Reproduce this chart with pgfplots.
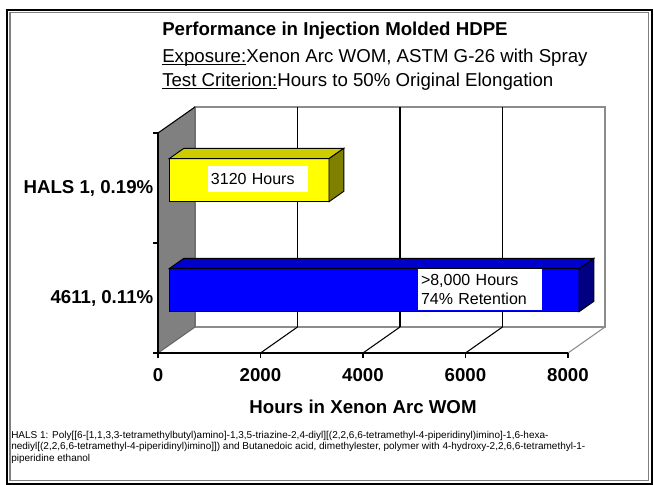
\documentclass[border=0pt]{standalone}
\usepackage{pgfplots}
\pgfplotsset{compat=1.18}
\usepackage{pgfplotstable}
\usepackage{fontspec}
\setmainfont{Liberation Sans}

\definecolor{yfront}{RGB}{255,255,0}
\definecolor{ytop}{RGB}{204,204,0}
\definecolor{yside}{RGB}{128,128,0}
\definecolor{bfront}{RGB}{0,0,255}
\definecolor{btop}{RGB}{0,0,204}
\definecolor{bside}{RGB}{0,0,128}
\definecolor{wallgray}{RGB}{128,128,128}
\definecolor{edgegray}{RGB}{140,140,140}

\newcommand{\ul}[1]{\leavevmode\setbox0\hbox{#1}\rlap{\rule[-1.6pt]{\wd0}{0.75pt}}\box0}

% hours to 50% original elongation
\pgfplotstableread{
pos hours
1.5 3120
}\halsdata
\pgfplotstableread{
pos hours
0.5 8000
}\fsdata

\begin{document}
\begin{tikzpicture}
\pgfplotstablegetelem{0}{hours}\of\halsdata \let\hA\pgfplotsretval
\pgfplotstablegetelem{0}{pos}\of\halsdata \let\pA\pgfplotsretval
\pgfplotstablegetelem{0}{hours}\of\fsdata \let\hB\pgfplotsretval
\pgfplotstablegetelem{0}{pos}\of\fsdata \let\pB\pgfplotsretval
% bar geometry (front offset, depth, half height)
\def\dfx{216.6}\def\dfy{0.0709}\def\ddx{288.8}\def\ddy{0.0945}\def\bh{0.1955}
\pgfmathsetmacro{\Axl}{\dfx}
\pgfmathsetmacro{\Axr}{\dfx+\hA}
\pgfmathsetmacro{\Axrr}{\dfx+\hA+\ddx}
\pgfmathsetmacro{\Axll}{\dfx+\ddx}
\pgfmathsetmacro{\Ayb}{\pA+\dfy-\bh}
\pgfmathsetmacro{\Ayt}{\pA+\dfy+\bh}
\pgfmathsetmacro{\Aybb}{\pA+\dfy-\bh+\ddy}
\pgfmathsetmacro{\Aytt}{\pA+\dfy+\bh+\ddy}
\pgfmathsetmacro{\Bxl}{\dfx}
\pgfmathsetmacro{\Bxr}{\dfx+\hB}
\pgfmathsetmacro{\Bxrr}{\dfx+\hB+\ddx}
\pgfmathsetmacro{\Bxll}{\dfx+\ddx}
\pgfmathsetmacro{\Byb}{\pB+\dfy-\bh}
\pgfmathsetmacro{\Byt}{\pB+\dfy+\bh}
\pgfmathsetmacro{\Bybb}{\pB+\dfy-\bh+\ddy}
\pgfmathsetmacro{\Bytt}{\pB+\dfy+\bh+\ddy}

\begin{scope}[x=0.75pt,y=-0.75pt]
\fill[white] (0,0) rectangle (654,485);
\draw[black, line width=1.5pt] (7,10) rectangle (651.5,483.5);
\draw[gray, line width=0.9pt] (10,12.8) rectangle (648.6,480.6);
\node[anchor=base west, inner sep=0pt, font=\fontsize{14}{16}\selectfont\bfseries] at (162,36) {Performance in Injection Molded HDPE};
\node[anchor=base west, inner sep=0pt, font=\fontsize{14}{16}\selectfont] at (162,63) {\ul{Exposure:}Xenon Arc WOM, ASTM G-26 with Spray};
\node[anchor=base west, inner sep=0pt, font=\fontsize{14}{16}\selectfont] at (162,87) {\ul{Test Criterion:}Hours to 50\% Original Elongation};
\node[anchor=base west, inner sep=0pt, font=\fontsize{7.5}{8.5}\selectfont] at (11,438) {HALS 1: Poly[[6-[1,1,3,3-tetramethylbutyl)amino]-1,3,5-triazine-2,4-diyl][(2,2,6,6-tetramethyl-4-piperidinyl)imino]-1,6-hexa-};
\node[anchor=base west, inner sep=0pt, font=\fontsize{7.5}{8.5}\selectfont] at (11,449.5) {nediyl[(2,2,6,6-tetramethyl-4-piperidinyl)imino]]) and Butanedoic acid, dimethylester, polymer with 4-hydroxy-2,2,6,6-tetramethyl-1-};
\node[anchor=base west, inner sep=0pt, font=\fontsize{7.5}{8.5}\selectfont] at (11,461) {piperidine ethanol};
\end{scope}

\begin{axis}[
  at={(118.5pt,-264.75pt)}, anchor=south west,
  scale only axis, width=307.5pt, height=165pt,
  xmin=0, xmax=8000, ymin=0, ymax=2,
  clip=false, axis on top,
  axis x line*=bottom, axis y line*=left,
  axis line style={black, line width=0.8pt},
  every tick/.style={black, line width=0.8pt},
  tick align=outside,
  major tick length=3.5pt,
  xtick={0,2000,4000,6000,8000},
  scaled x ticks=false,
  /pgf/number format/1000 sep={},
  /pgf/number format/assume math mode=true,
  ytick={0,1,2}, yticklabels={},
  extra y ticks={0.5,1.5},
  extra y tick labels={{4611, 0.11\%},{HALS 1, 0.19\%}},
  extra y tick style={major tick length=0pt},
  tick label style={font=\fontsize{14}{16}\selectfont\bfseries},
  xticklabel style={anchor=base, yshift=-18pt},
  xlabel={Hours in Xenon Arc WOM},
  xlabel style={font=\fontsize{14}{16}\selectfont\bfseries, at={(axis description cs:0.5,0)}, anchor=base, yshift=-45pt},
]
% back wall with gridlines
\draw[edgegray, line width=0.8pt] (axis cs:722,0.2364) rectangle (axis cs:8722,2.2364);
\draw[black, line width=0.8pt] (axis cs:2722,0.2364) -- (axis cs:2722,2.2364);
\draw[black, line width=0.8pt] (axis cs:4722,0.2364) -- (axis cs:4722,2.2364);
\draw[black, line width=0.8pt] (axis cs:6722,0.2364) -- (axis cs:6722,2.2364);
% floor
\draw[black, line width=0.8pt] (axis cs:2000,0) -- (axis cs:2722,0.2364);
\draw[black, line width=0.8pt] (axis cs:4000,0) -- (axis cs:4722,0.2364);
\draw[black, line width=0.8pt] (axis cs:6000,0) -- (axis cs:6722,0.2364);
\draw[edgegray, line width=0.8pt] (axis cs:8000,0) -- (axis cs:8722,0.2364);
% left wall
\fill[wallgray] (axis cs:0,0) -- (axis cs:722,0.2364) -- (axis cs:722,2.2364) -- (axis cs:0,2) -- cycle;
\draw[black!60, line width=0.8pt] (axis cs:0,0) -- (axis cs:722,0.2364) -- (axis cs:722,2.2364);
\draw[black, line width=0.8pt] (axis cs:722,2.2364) -- (axis cs:0,2);

% HALS 1 bar
\addplot[xbar, bar width=32.25pt, fill=yfront, draw=black, line width=0.7pt, xshift=8.325pt, yshift=5.85pt] table[x=hours, y=pos] {\halsdata};
\addplot[fill=ytop, draw=black, line width=0.7pt] coordinates {(\Axl,\Ayt) (\Axr,\Ayt) (\Axrr,\Aytt) (\Axll,\Aytt)} -- cycle;
\addplot[fill=yside, draw=black, line width=0.7pt] coordinates {(\Axr,\Ayb) (\Axrr,\Aybb) (\Axrr,\Aytt) (\Axr,\Ayt)} -- cycle;
% 4611 bar
\addplot[xbar, bar width=32.25pt, fill=bfront, draw=black, line width=0.7pt, xshift=8.325pt, yshift=5.85pt] table[x=hours, y=pos] {\fsdata};
\addplot[fill=btop, draw=black, line width=0.7pt] coordinates {(\Bxl,\Byt) (\Bxr,\Byt) (\Bxrr,\Bytt) (\Bxll,\Bytt)} -- cycle;
\addplot[fill=bside, draw=black, line width=0.7pt] coordinates {(\Bxr,\Byb) (\Bxrr,\Bybb) (\Bxrr,\Bytt) (\Bxr,\Byt)} -- cycle;

% value labels
\node[fill=white, inner xsep=2.25pt, inner ysep=0pt, text width=70.5pt, minimum height=19.5pt, align=left, font=\fontsize{12}{14.25}\selectfont] at (axis cs:1951,1.582) {3120 Hours};
\node[fill=white, inner xsep=2.25pt, inner ysep=0pt, text width=88.5pt, minimum height=30.75pt, align=left, font=\fontsize{12}{14.25}\selectfont] at (axis cs:6283,0.577) {>8,000 Hours\\74\% Retention};
\end{axis}
\end{tikzpicture}
\end{document}
